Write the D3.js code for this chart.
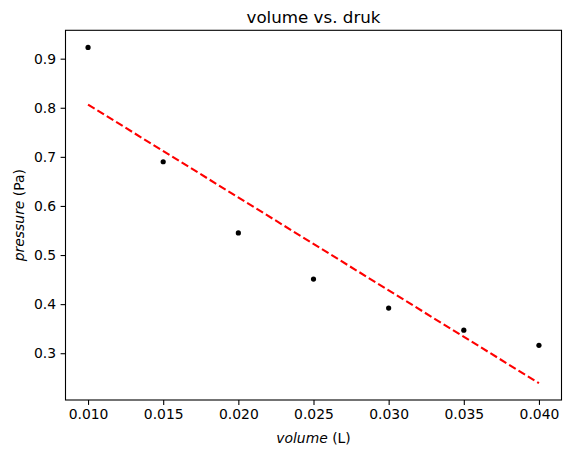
<!DOCTYPE html>
<html><head><meta charset="utf-8">
<script src="https://cdn.jsdelivr.net/npm/d3@7"></script>
<style>body{margin:0;background:#fff}svg{display:block;font-family:"DejaVu Sans",sans-serif}</style>
</head><body>
<script>
const volume = [0.010, 0.015, 0.020, 0.025, 0.030, 0.035, 0.040];
const pressure = [0.923, 0.690, 0.545, 0.451, 0.392, 0.347, 0.316];
const fitVolume = [0.010, 0.040];
const fitPressure = [0.8065, 0.2389];
const xTicks = [0.010, 0.015, 0.020, 0.025, 0.030, 0.035, 0.040];
const yTicks = [0.3, 0.4, 0.5, 0.6, 0.7, 0.8, 0.9];

const W = 571, H = 455;
const m = {left: 65.5, right: 561.5, top: 30.3, bottom: 400};
const svg = d3.select("body").append("svg").attr("width", W).attr("height", H);

const x = d3.scaleLinear().domain([0.0085, 0.0415]).range([m.left, m.right]);
const y = d3.scaleLinear().domain([0.2047, 0.9578]).range([m.bottom, m.top]);

const xAxis = svg.append("g").attr("transform", `translate(0,${m.bottom})`)
  .call(d3.axisBottom(x).tickValues(xTicks).tickFormat(d3.format(".3f")).tickSize(4.9).tickPadding(4.5));
const yAxis = svg.append("g").attr("transform", `translate(${m.left},0)`)
  .call(d3.axisLeft(y).tickValues(yTicks).tickFormat(d3.format(".1f")).tickSize(4.9).tickPadding(4.5));
[xAxis, yAxis].forEach(g => {
  g.select(".domain").remove();
  g.selectAll("line").attr("stroke", "#000").attr("stroke-width", 1.1);
  g.selectAll("text").attr("fill", "#000").style("font-size", "13.9px").style("font-family", "DejaVu Sans");
});

svg.append("rect").attr("x", m.left).attr("y", m.top)
  .attr("width", m.right - m.left).attr("height", m.bottom - m.top)
  .attr("fill", "none").attr("stroke", "#000").attr("stroke-width", 1.1);

const line = d3.line().x(d => x(d[0])).y(d => y(d[1]));
svg.append("path").datum(d3.zip(fitVolume, fitPressure))
  .attr("d", line).attr("fill", "none").attr("stroke", "red")
  .attr("stroke-width", 2.1).attr("stroke-dasharray", "7.7,3.3");

svg.selectAll("circle.pt").data(d3.zip(volume, pressure)).enter().append("circle")
  .attr("cx", d => x(d[0])).attr("cy", d => y(d[1])).attr("r", 2.6).attr("fill", "#000");

svg.append("text").attr("x", (m.left + m.right) / 2).attr("y", 23)
  .attr("text-anchor", "middle").style("font-size", "16.7px").text("volume vs. druk");

const xl = svg.append("text").attr("x", (m.left + m.right) / 2).attr("y", 442.5)
  .attr("text-anchor", "middle").style("font-size", "13.9px");
xl.append("tspan").style("font-style", "italic").text("volume");
xl.append("tspan").text(" (L)");

const yl = svg.append("text").attr("transform", `translate(23.5,${(m.top + m.bottom) / 2}) rotate(-90)`)
  .attr("text-anchor", "middle").style("font-size", "13.9px");
yl.append("tspan").style("font-style", "italic").text("pressure");
yl.append("tspan").text(" (Pa)");
</script>
</body></html>
